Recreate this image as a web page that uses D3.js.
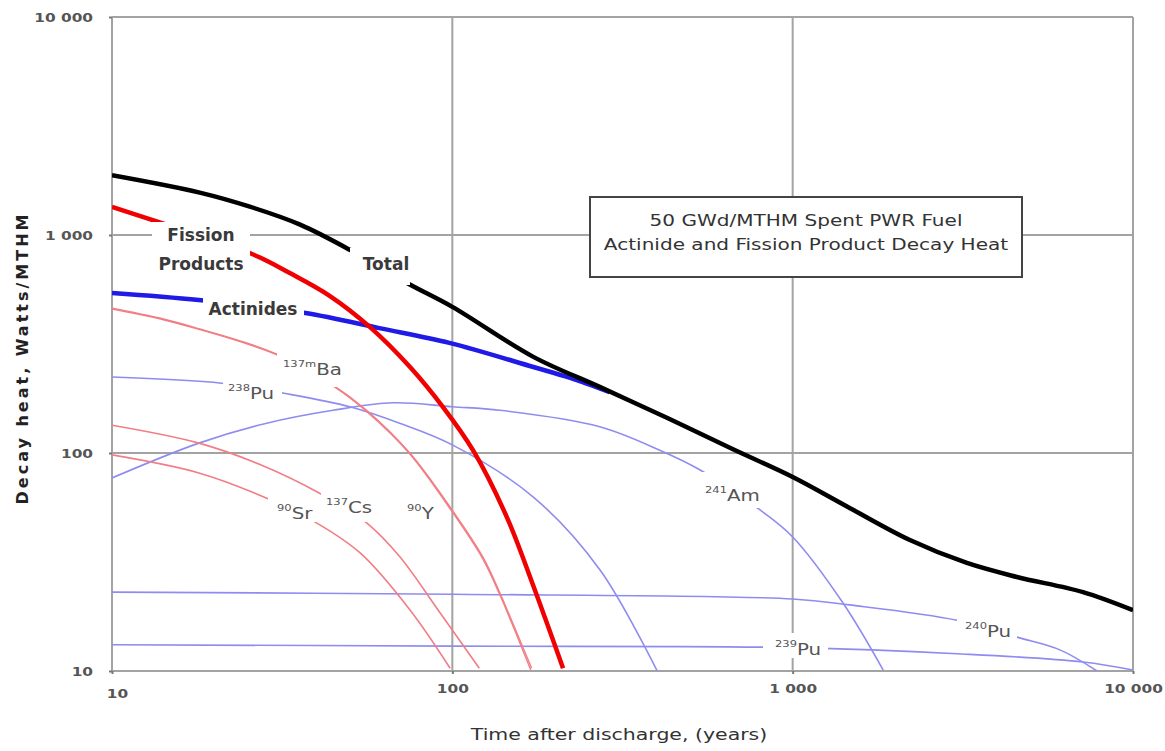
<!DOCTYPE html>
<html>
<head>
<meta charset="utf-8">
<script src="https://cdn.jsdelivr.net/npm/d3@7"></script>
<style>
  body { margin: 0; background: #fff; }
  svg { display: block; }
</style>
</head>
<body>
<div id="chart"></div>
<script>
// Decay heat (W/MTHM) against years after discharge
const tickValues = [10, 100, 1000, 10000];

const total = [[10,1880],[18.1,1565],[25.4,1349],[35.7,1116],[50,855],[73.6,602],[100,468],[173,276],[271,201],[427,145],[668,104],[1000,77.6],[1470,56],[2210,39.9],[3250,31.3],[4560,27.0],[7130,23.0],[10000,19.0]];
const fissionProducts = [[10,1344],[13.1,1172],[25.8,818],[33.3,669],[43.7,525],[57.3,378],[75.1,248],[94,162],[115,103],[145,50.3],[172.6,24.8],[211.5,10.3]];
const actinides = [[10,542],[18,503],[37,439],[61,374],[98,320],[173,248],[222,221],[290,190]];

const ba137m = [[10,462],[13.8,416],[18.1,371],[23.8,327],[30.5,284],[44.6,205],[56,157],[75,100],[98.5,56.5],[123,33.3],[138,22.8],[171,10.3]];
const y90 = [[10,458],[13.8,413],[18.1,368],[23.8,324],[30.5,282],[44.6,203],[56,155],[75,99],[98.5,55.5],[123,32.6],[138,22.3],[170,10.1]];
const cs137 = [[10,134],[18,111],[27,89],[41,65],[56,47.8],[70,33.5],[92,18.5],[120,10.3]];
const sr90 = [[10,98],[18,81],[28.5,62],[40,47.7],[53.6,34.8],[75,19.1],[98.5,10.3]];

const pu238 = [[10,223],[21,209],[32,188],[50,163],[70,137],[100,109],[173,62.8],[272,29],[400,10]];
const am241 = [[10,76.8],[18,111],[28.5,137],[44.6,157],[67,170],[100,163],[138,157],[271,132],[407,103],[535,83.6],[802,54.8],[1000,41.2],[1406,20.5],[1845,10.1]];
const pu240 = [[10,23],[100,22.5],[1000,21.4],[1470,20.1],[3040,17.1],[4560,14.3],[6100,12.5],[7840,10]];
const pu239 = [[10,13.2],[100,13.0],[1000,12.8],[3040,12.0],[7130,11.0],[10000,10.1]];

const width = 1165, height = 751;
const margin = { top: 17, right: 32, bottom: 80, left: 112 };
const stretch = 1.28; // the source picture is wider than tall, text looks stretched

const svg = d3.select("#chart").append("svg")
    .attr("width", width)
    .attr("height", height)
    .style("font-family", "'DejaVu Sans', sans-serif");

const x = d3.scaleLog().domain([10, 10000]).range([margin.left, width - margin.right]);
const y = d3.scaleLog().domain([10, 10000]).range([height - margin.bottom, margin.top]);

const fmt = d3.formatLocale({ decimal: ".", thousands: " ", grouping: [3], currency: ["", ""] }).format(",");

svg.append("defs").append("clipPath").attr("id", "plot")
    .append("rect")
    .attr("x", x.range()[0]).attr("y", y.range()[1])
    .attr("width", x.range()[1] - x.range()[0])
    .attr("height", y.range()[0] - y.range()[1]);

// grid + frame
const gridColor = "#a3a3a3";
svg.append("g").selectAll("line")
    .data(tickValues).join("line")
    .attr("x1", d => x(d)).attr("x2", d => x(d))
    .attr("y1", y.range()[1]).attr("y2", y.range()[0])
    .attr("stroke", gridColor).attr("stroke-width", 2);
svg.append("g").selectAll("line")
    .data(tickValues).join("line")
    .attr("y1", d => y(d)).attr("y2", d => y(d))
    .attr("x1", x.range()[0]).attr("x2", x.range()[1])
    .attr("stroke", gridColor).attr("stroke-width", 2);

// axes: small ticks, labels redrawn below with the stretch
const xAxis = svg.append("g")
    .attr("transform", `translate(0,${y.range()[0]})`)
    .call(d3.axisBottom(x).tickValues(tickValues).tickFormat(fmt).tickSize(3));
const yAxis = svg.append("g")
    .attr("transform", `translate(${x.range()[0]},0)`)
    .call(d3.axisLeft(y).tickValues(tickValues).tickFormat(fmt).tickSize(3));
[xAxis, yAxis].forEach(g => {
    g.select(".domain").remove();
    g.selectAll(".tick line").attr("stroke", "#777").attr("stroke-width", 2);
    g.selectAll(".tick text")
        .attr("fill", "#555")
        .attr("x", null).attr("y", null).attr("dy", null)
        .style("font-size", "12px")
        .style("font-weight", "bold")
        .style("font-family", "'DejaVu Sans', sans-serif");
});
xAxis.selectAll(".tick text")
    .attr("text-anchor", "middle")
    .attr("transform", d => `translate(${d === 10 ? 5 : 0},${d === 10 ? 27 : 22}) scale(${stretch},1)`);
yAxis.selectAll(".tick text")
    .attr("text-anchor", "end")
    .attr("transform", `translate(-19,4) scale(${stretch},1)`);

// curves
const line = d3.line()
    .x(d => x(d[0]))
    .y(d => y(d[1]))
    .curve(d3.curveCatmullRom.alpha(0.5));

const thinRed = "#f27d85", thinBlue = "#8f8cf0";
const series = [
    { data: pu239, color: thinBlue, w: 1.6 },
    { data: pu240, color: thinBlue, w: 1.6 },
    { data: am241, color: thinBlue, w: 1.6 },
    { data: pu238, color: thinBlue, w: 1.6 },
    { data: sr90, color: thinRed, w: 1.6 },
    { data: cs137, color: thinRed, w: 1.6 },
    { data: y90, color: thinRed, w: 1.4 },
    { data: ba137m, color: thinRed, w: 1.4 },
    { data: actinides, color: "#1f1ae6", w: 4.5 },
    { data: fissionProducts, color: "#f00000", w: 4.5 },
    { data: total, color: "#000", w: 4.5 }
];

svg.append("g").attr("clip-path", "url(#plot)")
    .selectAll("path")
    .data(series).join("path")
    .attr("d", d => line(d.data))
    .attr("fill", "none")
    .attr("stroke", d => d.color)
    .attr("stroke-width", d => d.w)
    .attr("stroke-linejoin", "round");

// curve labels sit on white patches that break the lines, like the original
const bold = [
    { text: "Fission", x: 201, y: 241, box: [152, 222, 98, 52] },
    { text: "Products", x: 201, y: 270, box: null },
    { text: "Total", x: 386, y: 270, box: [350, 248, 60, 37] },
    { text: "Actinides", x: 253, y: 315, box: [203, 293, 101, 25] }
];
const iso = [
    { sup: "137m", el: "Ba", x: 283, y: 375, box: [277, 351, 64, 36] },
    { sup: "238", el: "Pu", x: 228, y: 399, box: [223, 370, 59, 31] },
    { sup: "90", el: "Sr", x: 277, y: 519, box: [268, 493, 48, 29] },
    { sup: "137", el: "Cs", x: 326, y: 513, box: [321, 493, 49, 29] },
    { sup: "90", el: "Y", x: 407, y: 519, box: [405, 496, 31, 25] },
    { sup: "241", el: "Am", x: 705, y: 501, box: [700, 472, 62, 36] },
    { sup: "240", el: "Pu", x: 965, y: 637, box: [957, 612, 60, 28] },
    { sup: "239", el: "Pu", x: 775, y: 655, box: [763, 633, 65, 25] }
];

const labels = svg.append("g");
labels.selectAll("rect")
    .data(bold.concat(iso).filter(d => d.box)).join("rect")
    .attr("x", d => d.box[0]).attr("y", d => d.box[1])
    .attr("width", d => d.box[2]).attr("height", d => d.box[3])
    .attr("fill", "#fff");

labels.selectAll("text.big")
    .data(bold).join("text")
    .attr("class", "big")
    .attr("x", d => d.x).attr("y", d => d.y)
    .attr("text-anchor", "middle")
    .attr("fill", "#3a3a3a")
    .style("font-size", "17px")
    .style("font-weight", "bold")
    .text(d => d.text);

const isoText = labels.selectAll("text.iso")
    .data(iso).join("text")
    .attr("class", "iso")
    .attr("transform", d => `translate(${d.x},${d.y}) scale(${stretch},1)`)
    .attr("fill", "#555");
isoText.append("tspan")
    .style("font-size", "9px")
    .attr("dy", -8)
    .text(d => d.sup);
isoText.append("tspan")
    .style("font-size", "15.5px")
    .attr("dy", 8)
    .text(d => d.el);

// title box
const boxX = 590, boxY = 197, boxW = 432, boxH = 80;
svg.append("rect")
    .attr("x", boxX).attr("y", boxY)
    .attr("width", boxW).attr("height", boxH)
    .attr("fill", "#fff")
    .attr("stroke", "#444")
    .attr("stroke-width", 2);
const boxLines = ["50 GWd/MTHM Spent PWR Fuel", "Actinide and Fission Product Decay Heat"];
svg.append("g").selectAll("text")
    .data(boxLines).join("text")
    .attr("transform", (d, i) => `translate(${boxX + boxW / 2},${226 + i * 24}) scale(${stretch * 0.98},1)`)
    .attr("text-anchor", "middle")
    .attr("fill", "#333")
    .style("font-size", "16px")
    .text(d => d);

// axis titles
svg.append("text")
    .attr("transform", `translate(619,740) scale(${stretch},1)`)
    .attr("text-anchor", "middle")
    .attr("fill", "#333")
    .style("font-size", "16px")
    .text("Time after discharge, (years)");
svg.append("text")
    .attr("transform", "translate(28,358) rotate(-90)")
    .attr("text-anchor", "middle")
    .attr("fill", "#222")
    .style("font-size", "16px")
    .style("font-weight", "bold")
    .style("letter-spacing", "3px")
    .text("Decay heat, Watts/MTHM");
</script>
</body>
</html>
